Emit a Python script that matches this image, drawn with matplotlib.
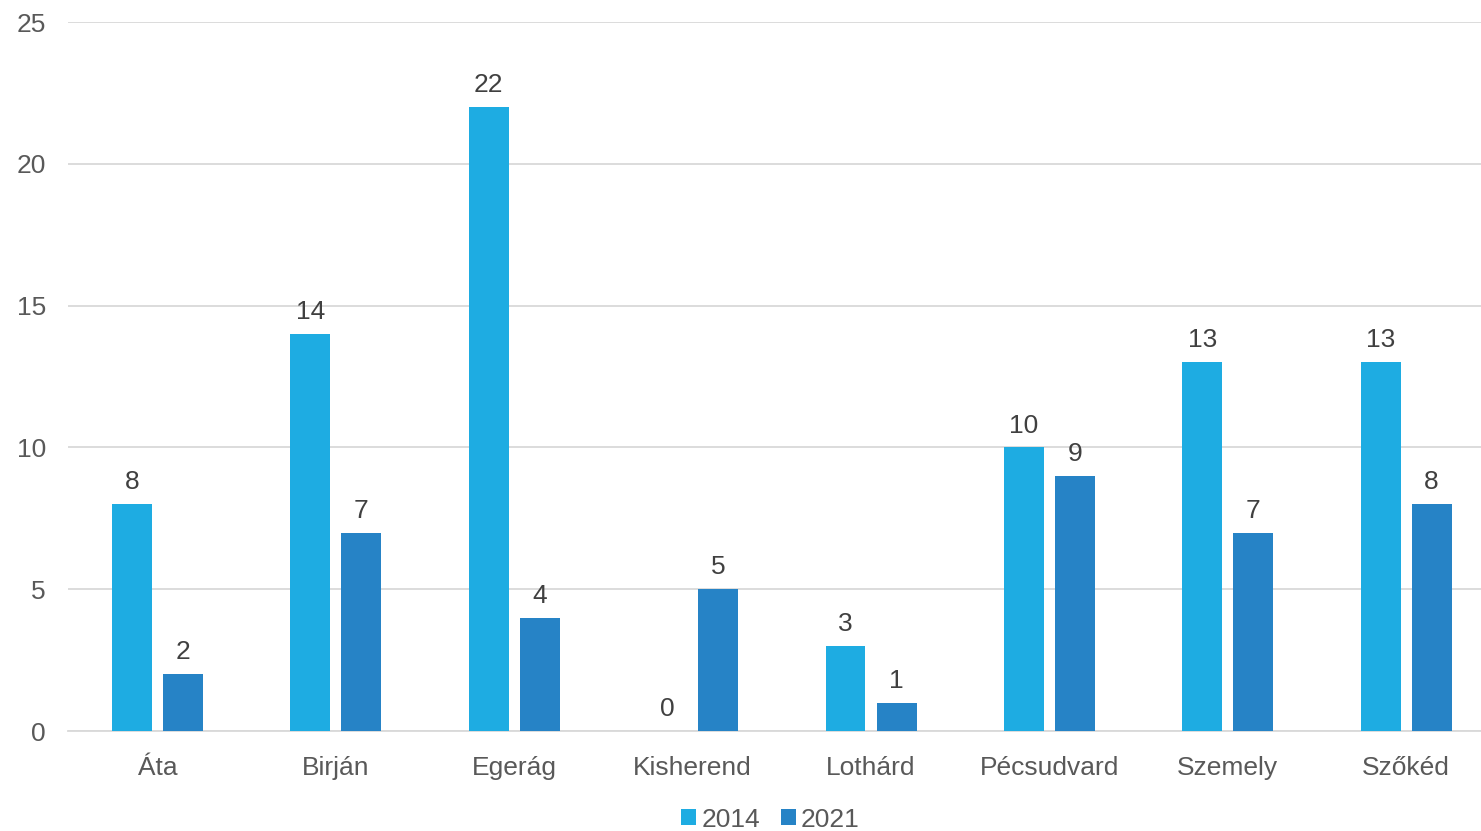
import numpy as np
import matplotlib.pyplot as plt

categories = ["Áta", "Birján", "Egerág", "Kisherend", "Lothárd", "Pécsudvard", "Szemely", "Szőkéd"]
values_2014 = [8, 14, 22, 0, 3, 10, 13, 13]
values_2021 = [2, 7, 4, 5, 1, 9, 7, 8]
series = ["2014", "2021"]
yticks = [0, 5, 10, 15, 20, 25]

c2014 = "#1EACE2"
c2021 = "#2683C6"
txt = "#595959"

plt.rcParams['font.family'] = ['Liberation Sans', 'DejaVu Sans']

fig = plt.figure(figsize=(14.81, 8.31), dpi=100)
# axes runs slightly past the right edge, as in the reference
ax = fig.add_axes([0.0461, 0.1203, 0.9636, 0.8532])

x = np.arange(len(categories))
w = 0.224
b1 = ax.bar(x - 0.143, values_2014, w, color=c2014, label=series[0], zorder=3)
b2 = ax.bar(x + 0.143, values_2021, w, color=c2021, label=series[1], zorder=3)

for bars in (b1, b2):
    for r in bars:
        h = r.get_height()
        ax.text(r.get_x() + r.get_width() / 2, h + 0.35, str(int(h)),
                ha="center", va="bottom", fontsize=19, color="#404040")

ax.set_xlim(-0.5, len(categories) - 0.5)
ax.set_ylim(0, 25)
ax.set_yticks(yticks)
ax.set_xticks(x)
ax.set_xticklabels(categories)
ax.tick_params(axis="both", length=0, labelsize=19, labelcolor=txt)
ax.tick_params(axis="y", pad=16)
ax.tick_params(axis="x", pad=18)
ax.grid(axis="y", color="#D9D9D9", linewidth=1.3, zorder=0)
for s in ["top", "right", "left"]:
    ax.spines[s].set_visible(False)
ax.spines["bottom"].set_color("#D9D9D9")
ax.spines["bottom"].set_linewidth(1.3)

ax.legend(loc="upper center", bbox_to_anchor=(0.5 * 0.9541 / 0.9636 - 0.003, -0.093), ncol=2, frameon=False,
          fontsize=19, labelcolor=txt, handlelength=0.55, handleheight=0.55,
          handletextpad=0.2, columnspacing=0.8, borderaxespad=0)

fig.savefig("out.png", dpi=100)
